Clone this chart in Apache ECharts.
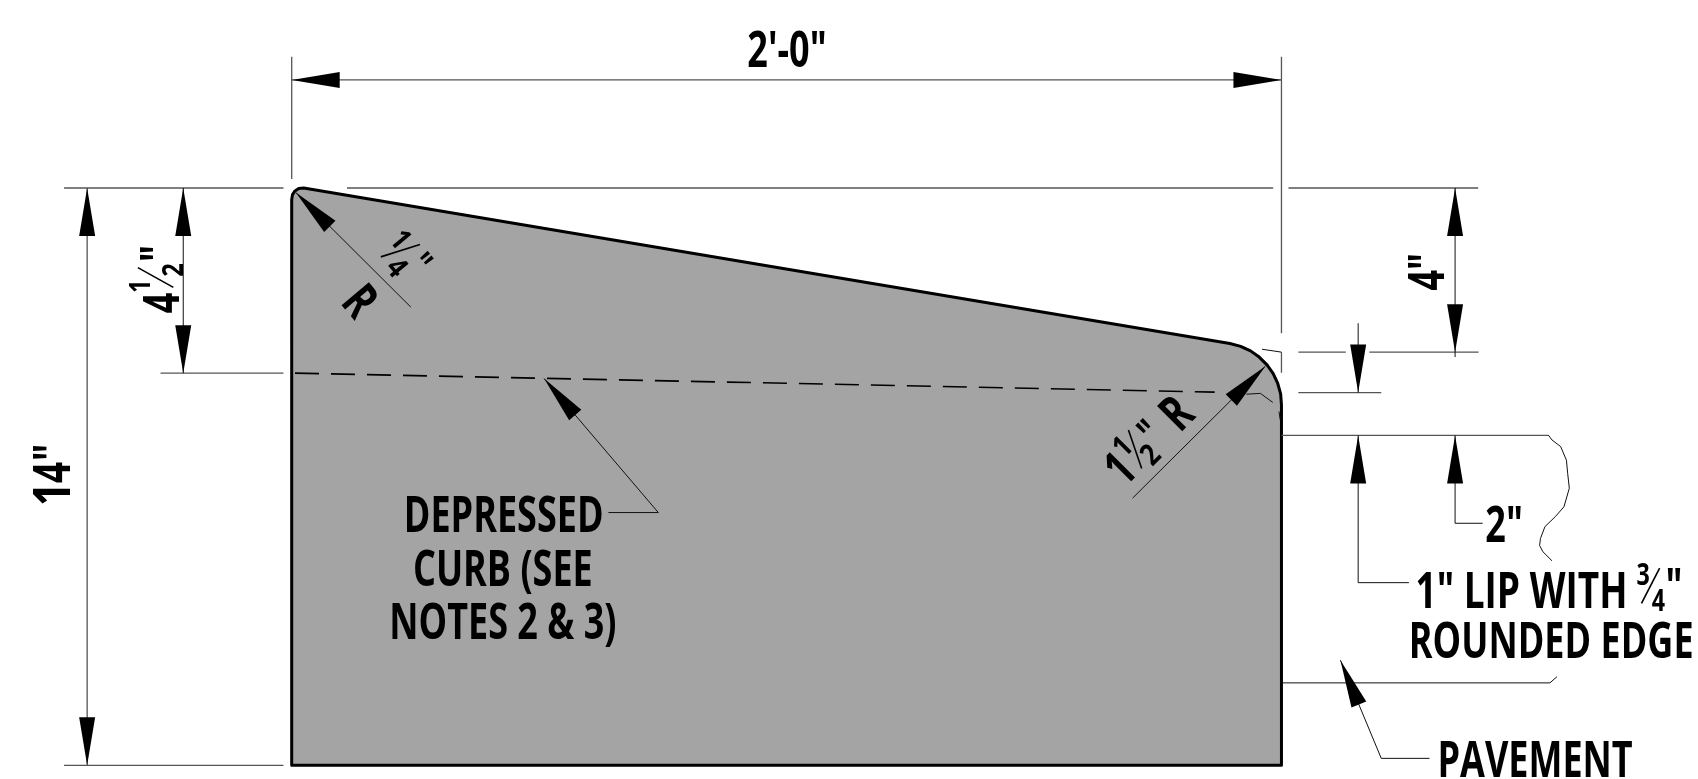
<!DOCTYPE html>
<html><head><meta charset="utf-8">
<style>html,body{margin:0;padding:0;background:#fff}#c{width:1698px;height:779px}</style>
<script src="https://cdn.jsdelivr.net/npm/echarts@6/dist/echarts.min.js"></script>
</head><body><div id="c"></div>
<script>
// All geometry in inches, measured from the curb's top-left corner (x right, y down).
const curbOutline = [[0,14],[0,0.28],[0.02,0.16],[0.08,0.07],[0.17,0.01],[0.29,0],[22.75,3.77],[23.01,3.84],[23.25,3.95],[23.46,4.10],[23.65,4.29],[23.80,4.50],[23.91,4.74],[23.98,4.99],[24,5.25],[24,14]];
const depressedLine = [[0.08,4.49],[22.38,4.95]];
const grayLines = [
  [[0,-3.18],[0,-0.22]],
  [[24,-3.18],[24,3.52]],
  [[24,3.98],[24,4.48]],
  [[-5.52,0],[-0.2,0]],
  [[1.34,0],[23.8,0]],
  [[24.17,0],[28.77,0]],
  [[-3.18,4.49],[-0.2,4.49]],
  [[-5.52,14],[-0.2,14]],
  [[0,-2.62],[24,-2.62]],
  [[-4.96,0],[-4.96,14]],
  [[24,6],[30.47,6]],
  [[24.41,3.98],[25.56,3.98]],
  [[26.13,3.98],[28.78,3.98]],
  [[24.41,4.96],[26.42,4.96]]
];
const blackLines = [
  [[23.53,3.91],[24,3.98]],
  [[-2.63,0],[-2.63,4.49]],
  [[28.21,0],[28.21,4.1]],
  [[25.86,3.28],[25.86,4.96]],
  [[25.86,6],[25.86,9.57],[27.09,9.57]],
  [[28.21,6],[28.21,8.13],[28.88,8.13]],
  [[24,12],[30.51,12],[30.68,11.85]],
  [[25.43,11.45],[26.42,13.83],[27.59,13.83]],
  [[6.12,4.62],[8.89,7.87],[7.68,7.87]],
  [[0.10,0.11],[2.89,2.89]],
  [[23.61,4.32],[20.39,7.52]],
  [[30.47,5.99],[30.56,6.11],[30.77,6.27],[30.91,6.60],[30.94,6.92],[30.98,7.28],[30.85,7.73],[30.64,7.97],[30.39,8.21],[30.28,8.50],[30.26,8.67],[30.34,8.82],[30.56,9.04]],
  [[23.15,5.0],[23.49,4.98],[23.79,5.2]],
  [[23.94,5.42],[23.97,5.62]]
];
// fraction bars
const fractionBars = [
  [[-3.73,1.93],[-2.87,2.41]],
  [[20.29,5.87],[20.61,6.80]],
  [[2.16,1.67],[3.11,1.37]],
  [[32.73,10.07],[33.17,9.22]]
];
// arrow heads: tipX, tipY, towardX, towardY
const arrowHeads = [
  [0,-2.62,24,-2.62],[24,-2.62,0,-2.62],
  [-4.96,0,-4.96,14],[-4.96,14,-4.96,0],
  [-2.63,0,-2.63,4.49],[-2.63,4.49,-2.63,0],
  [28.21,0,28.21,3.98],[28.21,3.98,28.21,0],
  [25.86,4.96,25.86,3.28],[25.86,6,25.86,9.57],[28.21,6,28.21,8.13],
  [25.43,11.45,26.42,13.83],[6.12,4.62,8.89,7.87],[0.10,0.11,2.89,2.89],[23.61,4.32,20.39,7.52]
];
// labels; x,y are the centre of the capital letters
const labelText  = ["2'-0\"","1","4","\"", "4","1","2","\"", "1","1","2","\"","R", "1","4","\"","R", "4\"","2\"","DEPRESSED","CURB (SEE","NOTES 2 & 3)","1\" LIP WITH","3","4","\"","ROUNDED EDGE","PAVEMENT"];
const labelX     = [12.01,-5.82,-5.82,-5.82, -3.17,-3.68,-2.87,-3.24, 20.07,20.13,20.81,20.82,21.44, 2.65,2.56,3.10,1.67, 27.52,29.40,5.14,5.12,5.12,29.82,32.77,33.14,33.52,30.54,30.15];
const labelY     = [-3.35,7.42,6.90,6.41, 2.79,2.38,1.99,1.59, 6.80,6.26,6.46,5.94,5.45, 1.24,1.92,1.84,2.73, 2.03,8.15,7.92,9.23,10.51,9.77,9.36,10.0,9.67,10.98,13.85];
const labelTurn  = [0,90,90,90, 90,90,90,90, 45,45,45,45,45, -50,-50,-50,-50, 90,0,0,0,0,0,0,0,0,0,0];
const labelSize  = [50,52,52,52, 50,28,28,50, 50,30,30,44,50, 30,30,40,50, 50,50,50,50,50,50,31,31,50,50,50];
const labelWidth = [.72,.8,.72,.72, .72,.85,.85,.72, .72,.85,.85,.72,.72, .85,.85,.72,.72, .72,.72,.72,.72,.72,.74,.75,.75,.72,.72,.72];

const PX = 41.24, X0 = 291.7, Y0 = 188;
const FONT = '"Open Sans"';
const lineSeries = (lines, color, width, type) => lines.map(l => ({
  type:'line', data:l, showSymbol:false, silent:true, animation:false, z:3, clip:false,
  lineStyle:{color, width, type:type||'solid'}
}));
const chart = echarts.init(document.getElementById('c'), null, {renderer:'canvas'});
chart.setOption({
  animation:false, backgroundColor:'#fff',
  grid:{left:0,right:0,top:0,bottom:0},
  xAxis:{type:'value',show:false,min:-X0/PX,max:(1698-X0)/PX},
  yAxis:{type:'value',show:false,inverse:true,min:-Y0/PX,max:(779-Y0)/PX},
  series:[
    {type:'custom',silent:true,z:1,data:curbOutline,clip:false,encode:{x:0,y:1},
      renderItem:(p,api)=>{
        if(p.dataIndex!==0) return null;
        return {type:'polygon',shape:{points:curbOutline.map(q=>api.coord(q))},
          style:{fill:'#a4a4a4',stroke:'#000',lineWidth:3,lineJoin:'round'}};
      }},
    ...lineSeries([depressedLine],'#000',1.6,[24,12]),
    ...lineSeries(grayLines,'#555',1.3),
    ...lineSeries(blackLines,'#111',1),
    ...lineSeries(fractionBars,'#000',1.6),
    {type:'custom',silent:true,z:4,data:arrowHeads,clip:false,encode:{x:0,y:1},
      renderItem:(p,api)=>{
        const t=api.coord([api.value(0),api.value(1)]), o=api.coord([api.value(2),api.value(3)]);
        const d=Math.hypot(o[0]-t[0],o[1]-t[1]), ux=(o[0]-t[0])/d, uy=(o[1]-t[1])/d, L=48, H=8;
        const b=[t[0]+ux*L,t[1]+uy*L];
        return {type:'polygon',shape:{points:[t,[b[0]-uy*H,b[1]+ux*H],[b[0]+uy*H,b[1]-ux*H]]},style:{fill:'#000'}};
      }},
    {type:'custom',silent:true,z:5,data:labelText.map((_,i)=>[labelX[i],labelY[i]]),clip:false,encode:{x:0,y:1},
      renderItem:(p,api)=>{
        const i=p.dataIndex, c=api.coord([labelX[i],labelY[i]]);
        const r=labelTurn[i]*Math.PI/180, off=0.066*labelSize[i];
        return {type:'text',x:c[0]+off*Math.sin(r),y:c[1]+off*Math.cos(r),scaleX:labelWidth[i],rotation:r,
          style:{text:labelText[i],fill:'#000',align:'center',verticalAlign:'middle',
            font:'bold '+labelSize[i]+'px '+FONT}};
      }}
  ]
});
</script></body></html>
